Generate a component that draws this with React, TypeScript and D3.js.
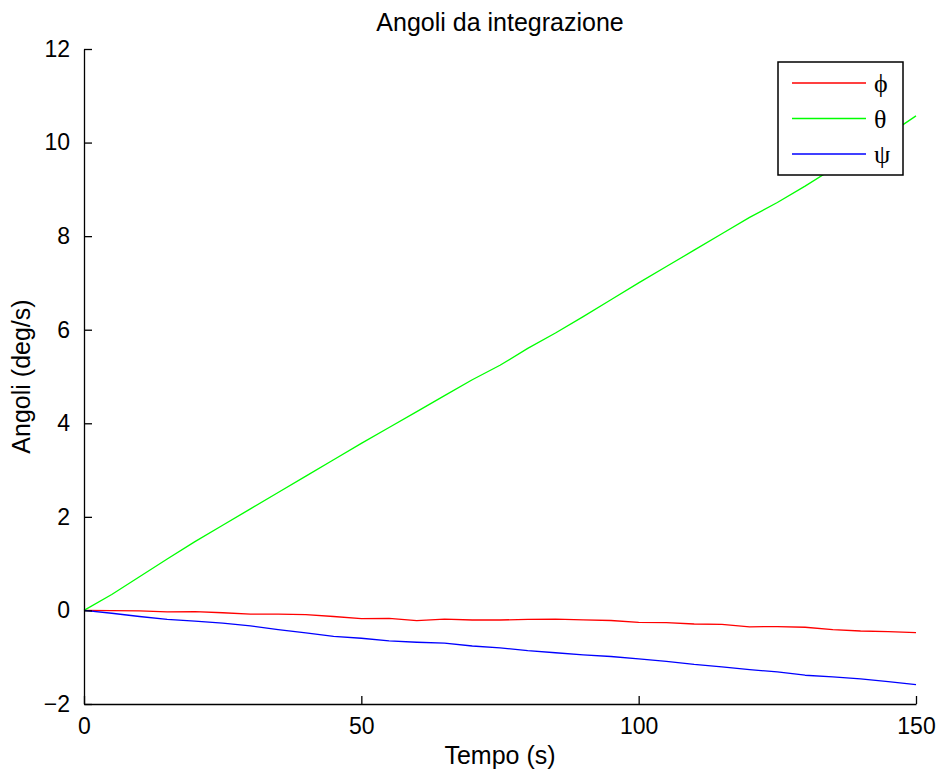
import React, { useEffect, useRef } from 'react';
import * as d3 from 'd3';

// time axis (s), sampled every 5 s
const tempo = [0, 5, 10, 15, 20, 25, 30, 35, 40, 45, 50, 55, 60, 65, 70, 75, 80, 85, 90, 95, 100, 105, 110, 115, 120, 125, 130, 135, 140, 145, 150];

const phi = [0, -0.005, -0.01, -0.03, -0.025, -0.05, -0.08, -0.08, -0.09, -0.13, -0.175, -0.17, -0.22, -0.185, -0.205, -0.205, -0.19, -0.185, -0.2, -0.215, -0.255, -0.26, -0.29, -0.3, -0.35, -0.345, -0.36, -0.41, -0.44, -0.455, -0.475];
const theta = [0, 0.34, 0.72, 1.1, 1.47, 1.82, 2.17, 2.52, 2.87, 3.22, 3.57, 3.91, 4.25, 4.59, 4.93, 5.24, 5.6, 5.93, 6.28, 6.64, 7.0, 7.35, 7.7, 8.05, 8.4, 8.72, 9.07, 9.44, 9.8, 10.17, 10.57];
const psi = [0, -0.06, -0.13, -0.19, -0.23, -0.27, -0.33, -0.41, -0.48, -0.555, -0.595, -0.65, -0.68, -0.7, -0.76, -0.8, -0.86, -0.905, -0.95, -0.985, -1.035, -1.09, -1.155, -1.205, -1.265, -1.315, -1.385, -1.42, -1.465, -1.52, -1.585];

const xTicks = [0, 50, 100, 150];
const yTicks = [-2, 0, 2, 4, 6, 8, 10, 12];

const series = [
    { name: 'ϕ', values: phi, color: '#ff0000' },
    { name: 'θ', values: theta, color: '#00ff00' },
    { name: 'ψ', values: psi, color: '#0000ff' },
];

const App = () => {
    const ref = useRef<SVGSVGElement>(null);

    useEffect(() => {
        document.body.style.margin = '0';
        if (!ref.current) return;
        const svg = d3.select(ref.current);
        svg.selectAll('*').remove();

        const W = 939, H = 774;
        const left = 84, right = 916, top = 49, bottom = 704;
        const font = '"Liberation Sans", Arial, Helvetica, sans-serif';

        const x = d3.scaleLinear().domain([0, 150]).range([left, right]);
        const y = d3.scaleLinear().domain([-2, 12]).range([bottom, top]);

        svg.append('rect').attr('width', W).attr('height', H).attr('fill', '#fff');

        // lines
        const line = d3.line<number>()
            .x((_, i) => x(tempo[i]))
            .y(d => y(d));

        series.forEach(s => {
            svg.append('path')
                .datum(s.values)
                .attr('d', line)
                .attr('fill', 'none')
                .attr('stroke', s.color)
                .attr('stroke-width', 1.3)
                .attr('stroke-linejoin', 'round');
        });

        // axes: only left and bottom, ticks pointing inward
        const gx = svg.append('g')
            .attr('transform', `translate(0,${bottom})`)
            .call(d3.axisBottom(x).tickValues(xTicks).tickSizeInner(-8).tickSizeOuter(0).tickPadding(14));
        const gy = svg.append('g')
            .attr('transform', `translate(${left},0)`)
            .call(d3.axisLeft(y).tickValues(yTicks).tickSizeInner(-8).tickSizeOuter(0).tickPadding(14)
                .tickFormat(d => (+d < 0 ? '−' + Math.abs(+d) : String(d))));

        [gx, gy].forEach(g => {
            g.select('.domain').attr('stroke', '#000').attr('stroke-width', 1.3);
            g.selectAll('.tick line').attr('stroke', '#000').attr('stroke-width', 1.3);
            g.selectAll('.tick text')
                .attr('fill', '#000')
                .style('font-family', font)
                .style('font-size', '23px');
        });

        // title and axis labels
        svg.append('text')
            .attr('x', (left + right) / 2).attr('y', 31)
            .attr('text-anchor', 'middle')
            .style('font-family', font).style('font-size', '25px')
            .text('Angoli da integrazione');

        svg.append('text')
            .attr('x', (left + right) / 2).attr('y', 764)
            .attr('text-anchor', 'middle')
            .style('font-family', font).style('font-size', '25px')
            .text('Tempo (s)');

        svg.append('text')
            .attr('transform', `translate(30,${(top + bottom) / 2}) rotate(-90)`)
            .attr('text-anchor', 'middle')
            .style('font-family', font).style('font-size', '25px')
            .text('Angoli (deg/s)');

        // legend
        const lg = svg.append('g').attr('transform', 'translate(778,62)');
        lg.append('rect')
            .attr('width', 125).attr('height', 113)
            .attr('fill', '#fff').attr('stroke', '#000').attr('stroke-width', 1.5);
        series.forEach((s, i) => {
            const ly = 21 + i * 35.5;
            lg.append('line')
                .attr('x1', 14).attr('x2', 88)
                .attr('y1', ly).attr('y2', ly)
                .attr('stroke', s.color).attr('stroke-width', 1.3);
            lg.append('text')
                .attr('x', 96).attr('y', ly + 9)
                .style('font-family', '"Liberation Serif", "Times New Roman", serif')
                .style('font-size', '26px')
                .text(s.name);
        });
    }, []);

    return <svg ref={ref} width={939} height={774} style={{ display: 'block' }} />;
};

export default App;
